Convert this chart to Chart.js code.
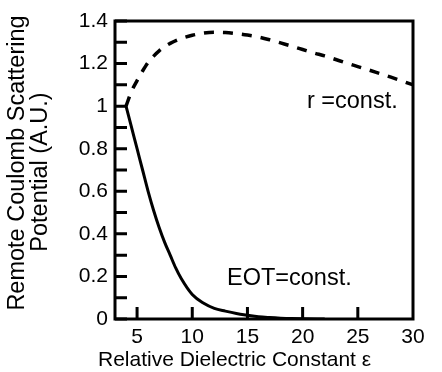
<!DOCTYPE html>
<html>
<head>
<meta charset="utf-8">
<script src="https://cdn.jsdelivr.net/npm/chart.js@4.4.1/dist/chart.umd.min.js"></script>
<style>
  html, body { margin: 0; padding: 0; background: #fff; }
  #wrap { width: 442px; height: 372px; }
</style>
</head>
<body>
<div id="wrap"><canvas id="rcs" width="442" height="372"></canvas></div>
<script>
// EOT = const. curve
const eotEps = [4, 4.5, 5, 5.5, 6, 6.5, 7, 7.5, 8, 8.5, 9, 10, 11, 12, 13, 14, 15, 16, 17, 18, 19, 20, 22];
const eotPotential = [1.0, 0.9, 0.8, 0.7, 0.6, 0.51, 0.43, 0.36, 0.3, 0.24, 0.19, 0.115, 0.075, 0.05, 0.037, 0.026, 0.018, 0.011, 0.007, 0.004, 0.002, 0.001, 0];

// r = const. curve
const rEps = [4, 4.5, 5, 5.5, 6, 6.5, 7, 8, 9, 10, 11, 12, 13, 14, 15, 16, 17, 18, 19, 20, 21, 22, 23, 24, 25, 26, 27, 28, 29, 30];
const rPotential = [1.0, 1.07, 1.12, 1.165, 1.205, 1.235, 1.26, 1.295, 1.318, 1.333, 1.343, 1.347, 1.346, 1.341, 1.334, 1.325, 1.312, 1.297, 1.282, 1.266, 1.25, 1.236, 1.219, 1.202, 1.186, 1.17, 1.153, 1.136, 1.118, 1.1];

const xTicks = [5, 10, 15, 20, 25, 30];
const yTicks = [0, 0.1, 0.2, 0.3, 0.4, 0.5, 0.6, 0.7, 0.8, 0.9, 1.0, 1.1, 1.2, 1.3, 1.4];
const yLabelled = [0, 0.2, 0.4, 0.6, 0.8, 1.0, 1.2, 1.4];

const FONT = "'Liberation Sans', Arial, sans-serif";

const toPoints = (xs, ys) => xs.map((x, i) => ({ x: x, y: ys[i] }));

// frame, inward tick marks, curve labels and axis titles
const framePlugin = {
  id: 'frame',
  afterDatasetsDraw(chart) {
    const { ctx, chartArea: a, scales } = chart;
    ctx.save();
    ctx.strokeStyle = '#000';
    ctx.lineWidth = 3;
    ctx.lineCap = 'butt';
    ctx.beginPath();
    yTicks.forEach(v => {
      const py = scales.y.getPixelForValue(v);
      ctx.moveTo(a.left, py);
      ctx.lineTo(a.left + 12, py);
    });
    xTicks.forEach(v => {
      if (v >= scales.x.max) return;
      const px = scales.x.getPixelForValue(v);
      ctx.moveTo(px, a.bottom);
      ctx.lineTo(px, a.bottom - 12);
    });
    ctx.stroke();
    ctx.strokeRect(a.left, a.top, a.right - a.left, a.bottom - a.top);

    ctx.fillStyle = '#000';
    ctx.textAlign = 'center';
    ctx.textBaseline = 'middle';
    ctx.font = '23.5px ' + FONT;
    ctx.fillText('r =const.', scales.x.getPixelForValue(24.5), scales.y.getPixelForValue(1.02));
    ctx.fillText('EOT=const.', scales.x.getPixelForValue(18.8), scales.y.getPixelForValue(0.19));

    ctx.font = '21px ' + FONT;
    ctx.textAlign = 'left';
    ctx.fillText('Relative Dielectric Constant \u03b5', 98, 360);

    ctx.font = '23.5px ' + FONT;
    ctx.textAlign = 'center';
    ctx.translate(18, 163);
    ctx.rotate(-Math.PI / 2);
    ctx.fillText('Remote Coulomb Scattering', 0, 0);
    ctx.fillText('Potential (A.U.)', -9, 23);
    ctx.restore();
  }
};

new Chart(document.getElementById('rcs'), {
  type: 'line',
  data: {
    datasets: [
      {
        label: 'EOT=const.',
        data: toPoints(eotEps, eotPotential),
        borderColor: '#000',
        borderWidth: 3,
        pointRadius: 0,
        cubicInterpolationMode: 'monotone',
        fill: false
      },
      {
        label: 'r =const.',
        data: toPoints(rEps, rPotential),
        borderColor: '#000',
        borderWidth: 3.5,
        borderDash: [10, 9],
        pointRadius: 0,
        cubicInterpolationMode: 'monotone',
        fill: false
      }
    ]
  },
  options: {
    responsive: false,
    animation: false,
    events: [],
    layout: { padding: { top: 21, right: 29, left: 0, bottom: 0 } },
    plugins: {
      legend: { display: false },
      tooltip: { enabled: false }
    },
    scales: {
      x: {
        type: 'linear',
        min: 3,
        max: 30,
        grid: { display: false, drawTicks: false },
        border: { display: false },
        afterBuildTicks: s => { s.ticks = xTicks.map(v => ({ value: v })); },
        afterFit: s => { s.height = 53; },
        ticks: {
          color: '#000',
          padding: 6,
          maxRotation: 0,
          font: { family: FONT, size: 21 },
          callback: v => String(v)
        }
      },
      y: {
        type: 'linear',
        min: 0,
        max: 1.4,
        grid: { display: false, drawTicks: false },
        border: { display: false },
        afterBuildTicks: s => { s.ticks = yTicks.map(v => ({ value: v })); },
        afterFit: s => { s.width = 115; },
        ticks: {
          color: '#000',
          padding: 7,
          font: { family: FONT, size: 21 },
          callback: v => yLabelled.some(l => Math.abs(l - v) < 1e-6) ? String(Math.round(v * 10) / 10) : ''
        }
      }
    }
  },
  plugins: [framePlugin]
});
</script>
</body>
</html>
